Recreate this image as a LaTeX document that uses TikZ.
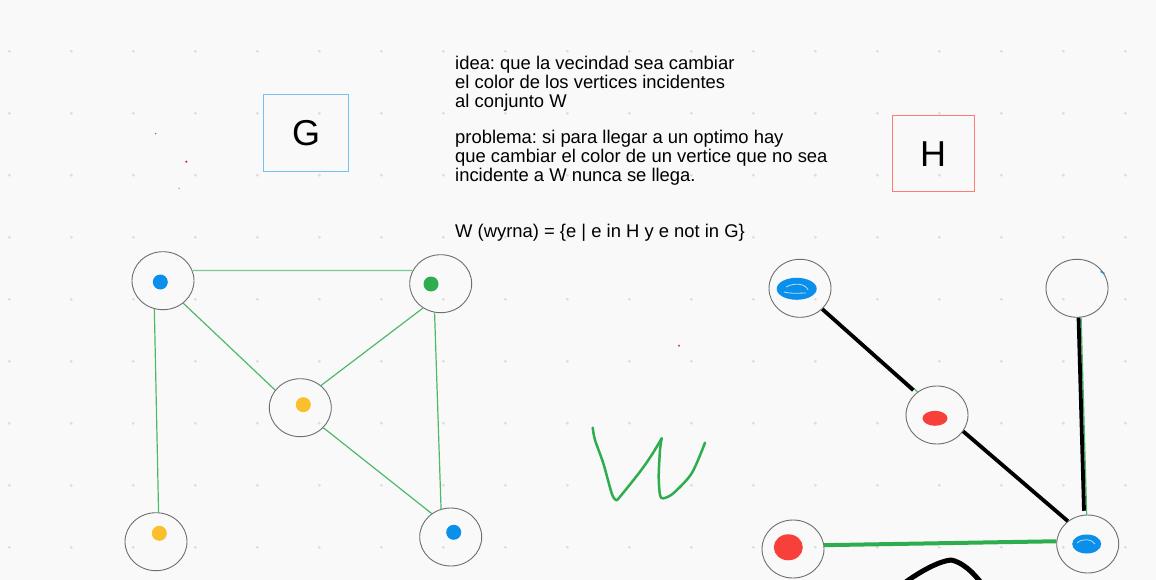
\documentclass[tikz,border=0pt]{standalone}
\usepackage{fontspec}
\setmainfont{Liberation Sans}
\usetikzlibrary{shapes.geometric}
\frenchspacing

\definecolor{paper}{HTML}{F9F9F9}
\definecolor{dotgray}{HTML}{DCDCDC}
\definecolor{ringgray}{HTML}{6E6E6E}
\definecolor{penblue}{HTML}{0A8FEA}
\definecolor{penred}{HTML}{F8403A}
\definecolor{penyellow}{HTML}{FBBF2E}
\definecolor{pengreen}{HTML}{2EAD4E}
\definecolor{edgegreen}{HTML}{4DBA6A}
\definecolor{boxblue}{HTML}{74C2F0}
\definecolor{boxred}{HTML}{FF7B73}

\begin{document}
\begin{tikzpicture}[x=1pt,y=-1pt,
  vertex/.style={draw=ringgray, line width=0.9pt, ellipse, minimum width=62pt, minimum height=58pt, inner sep=0pt},
  gedge/.style={draw=edgegreen, line width=1.2pt},
  hblack/.style={draw=black, line width=3.8pt},
  hgreen/.style={draw=pengreen, line width=4pt},
  hthin/.style={draw=edgegreen, line width=1.2pt},
  graphbox/.style={line width=1pt, minimum width=85pt, minimum height=77pt, inner sep=0pt, font=\fontsize{36}{40}\selectfont},
  note/.style={anchor=base west, align=left, inner sep=0pt, font=\fontsize{18.4}{19}\selectfont}]

% Paper and dot grid
\fill[paper] (0,0) rectangle (1156,580);
\useasboundingbox (0,0) rectangle (1156,580);
\foreach \i in {0,...,18}
  \foreach \j in {0,...,8}
    \fill[dotgray] (9.3+62*\i,51.3+62*\j) circle (1.5);

% Titles
\node[graphbox, draw=boxblue] (gtitle) at (306,133) {G};
\node[graphbox, draw=boxred, minimum width=82pt, minimum height=76pt] (htitle) at (933,154) {H};

% Notes (anchored on the last line)
\node[note] (idea) at (455,107.5) {idea: que la vecindad sea cambiar\\el color de los vertices incidentes\\al conjunto W};
\node[note] (problema) at (455,181.5) {problema: si para llegar a un optimo hay\\que cambiar el color de un vertice que no sea\\incidente a W nunca se llega.};
\node[note] (wdef) at (455,237) {W (wyrna) = \{e | e in H y e not in G\}};

% Stray pen dots
\fill[penblue] (155.7,133.7) circle (0.8);
\fill[magenta!70!violet] (186.3,161.7) circle (1.2);
\fill[pengreen] (179,188.3) circle (0.7);
\fill[penred] (679,345.7) circle (1.2);

% Graph G
\node[vertex] (gA) at (163,280.7) {};
\node[vertex] (gB) at (440.7,283.7) {};
\node[vertex] (gC) at (300.3,407.7) {};
\node[vertex] (gD) at (156,541.7) {};
\node[vertex] (gE) at (450.7,537) {};

\fill[penblue] (160.3,282) circle (7.5);
\fill[pengreen] (431,284) circle (7.5);
\fill[penyellow] (303.3,404.7) circle (7.5);
\fill[penyellow] (159.3,533.3) circle (7.5);
\fill[penblue] (453.7,532.3) circle (7.5);

\draw[gedge, draw=edgegreen!75] (gA.19) -- (gB.155);
\draw[gedge] (gA.-48) -- (gC.145);
\draw[gedge] (gA.-107) -- (gD.85);
\draw[gedge] (gB.-126) -- (gC.47);
\draw[gedge] (gB.-102) -- (gE.109);
\draw[gedge] (gC.-41) -- (gE.129);

% Handwritten W
\draw[pengreen, line width=2.5pt, line cap=round, line join=round]
  plot[smooth, tension=0.5] coordinates {(592.7,427.7) (595,440) (603.3,463.3) (611.7,493.3) (616,500) (620,496.7) (640,471.7) (651.7,455) (661.7,438.3)};
\draw[pengreen, line width=2.5pt, line cap=round, line join=round]
  plot[smooth, tension=0.5] coordinates {(661.7,438.3) (660,450) (658.7,476.7) (660,495) (663.3,498.3) (673.3,493.3) (691.7,473.3) (705,442.7)};

% Graph H
\node[vertex] (hP) at (800,288.3) {};
\node[vertex] (hQ) at (1077,288.3) {};
\node[vertex] (hR) at (937,415) {};
\node[vertex] (hS) at (793,549) {};
\node[vertex] (hT) at (1087.7,544) {};

% scribbled colours
\fill[penblue] (796.7,288.8) ellipse (20 and 11);
\draw[white!70!penblue, line width=0.8pt] (786,287) .. controls (795,282) and (806,284) .. (808,290);
\draw[white!70!penblue, line width=0.8pt] (784,292) .. controls (792,294) and (800,293) .. (806,293);
\draw[penblue, line width=1.2pt] (1100.5,271.5) -- (1104.5,273.5);
\fill[penred] (935,418.3) ellipse (12.5 and 7.5);
\fill[penred] (788.3,547.3) ellipse (14.5 and 13);
\fill[penblue] (1086.7,544) ellipse (14.5 and 9.5);
\draw[white!70!penblue, line width=0.8pt] (1077,543) .. controls (1082,538) and (1092,539) .. (1095,544);

\draw[hthin] (hP.-43) -- (hR.130);
\draw[hblack, shorten >=4pt] (hP.-43) -- (hR.133);
\draw[hblack] (hR.-32) -- (hT.131);
\draw[hthin] (hQ.-82) -- (hT.92);
\draw[hblack, shorten >=4pt] (hQ.-87) -- (hT.97);
\draw[hgreen] (hS.7) -- (hT.175);

% Stroke at the bottom
\draw[black, line width=5pt, line join=round] (903,584) .. controls (922,570) and (940,561) .. (951,560) .. controls (962,562) and (973,572) .. (982,584);

\end{tikzpicture}
\end{document}
